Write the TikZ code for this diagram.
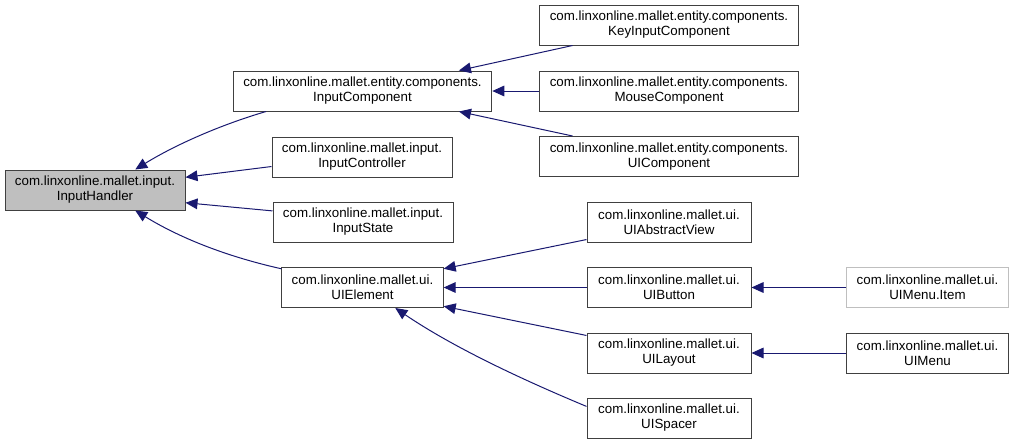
\documentclass[tikz,border=0pt]{standalone}
\usepackage{fontspec}
\setmainfont{Liberation Sans}
\usetikzlibrary{arrows.meta}
\definecolor{edgeblue}{HTML}{191970}
\definecolor{boxgray}{HTML}{BFBFBF}
\definecolor{boxline}{HTML}{404040}
\begin{document}
\begin{tikzpicture}[x=0.75pt,y=-0.75pt,
  cls/.style={draw=boxline, line width=0.75pt, fill=white, minimum height=30pt,
    align=center, inner sep=0pt, font=\fontsize{10}{11.25}\selectfont},
  wA/.style={minimum width=135pt},
  wB/.style={minimum width=194pt},
  wC/.style={minimum width=121pt},
  wD/.style={minimum width=123pt},
  cur/.style={cls, fill=boxgray},
  ext/.style={cls, draw=boxgray},
  edge/.style={draw=edgeblue, line width=0.75pt,
    -{Triangle[length=9pt,width=8pt]}, fill=none}]
\useasboundingbox (0,0) rectangle (1015,444);

% nodes
\node[cur, wA] (ih) at (95,190) {com.linxonline.mallet.input.\\InputHandler};
\node[cls, wB] (ic) at (362.5,91) {com.linxonline.mallet.entity.components.\\InputComponent};
\node[cls, wA] (ictrl) at (362,157) {com.linxonline.mallet.input.\\InputController};
\node[cls, wA] (ist) at (363,222) {com.linxonline.mallet.input.\\InputState};
\node[cls, wC] (uie) at (362.5,287.5) {com.linxonline.mallet.ui.\\UIElement};

\node[cls, wB] (kic) at (669,25) {com.linxonline.mallet.entity.components.\\KeyInputComponent};
\node[cls, wB] (mc) at (669,91) {com.linxonline.mallet.entity.components.\\MouseComponent};
\node[cls, wB] (uic) at (669,156.5) {com.linxonline.mallet.entity.components.\\UIComponent};

\node[cls, wD] (uav) at (669,222) {com.linxonline.mallet.ui.\\UIAbstractView};
\node[cls, wD] (uib) at (669,287.5) {com.linxonline.mallet.ui.\\UIButton};
\node[cls, wD] (uil) at (669,353) {com.linxonline.mallet.ui.\\UILayout};
\node[cls, wD] (uis) at (669,418) {com.linxonline.mallet.ui.\\UISpacer};

\node[ext, wC] (umi) at (927.5,287.5) {com.linxonline.mallet.ui.\\UIMenu.Item};
\node[cls, wC] (um) at (927.5,353) {com.linxonline.mallet.ui.\\UIMenu};

% edges (arrow points at the base class)
\draw[edge] (ic.192) .. controls (220,125) and (175,145) .. (ih.27);
\draw[edge] (ictrl.186) -- (ih.8);
\draw[edge] (ist.173) -- (ih.-8);
\draw[edge] (uie.167) .. controls (220,255) and (175,235) .. (ih.-27);

\draw[edge] (kic.192) -- (ic.12);
\draw[edge] (mc.west) -- (ic.east);
\draw[edge] (uic.168) -- (ic.-12);

\draw[edge] (uav.192) -- (uie.13);
\draw[edge] (uib.west) -- (uie.east);
\draw[edge] (uil.168) -- (uie.-13);
\draw[edge] (uis.172) .. controls (540,387) and (460,352) .. (uie.-32);

\draw[edge] (umi.west) -- (uib.east);
\draw[edge] (um.west) -- (uil.east);
\end{tikzpicture}
\end{document}
